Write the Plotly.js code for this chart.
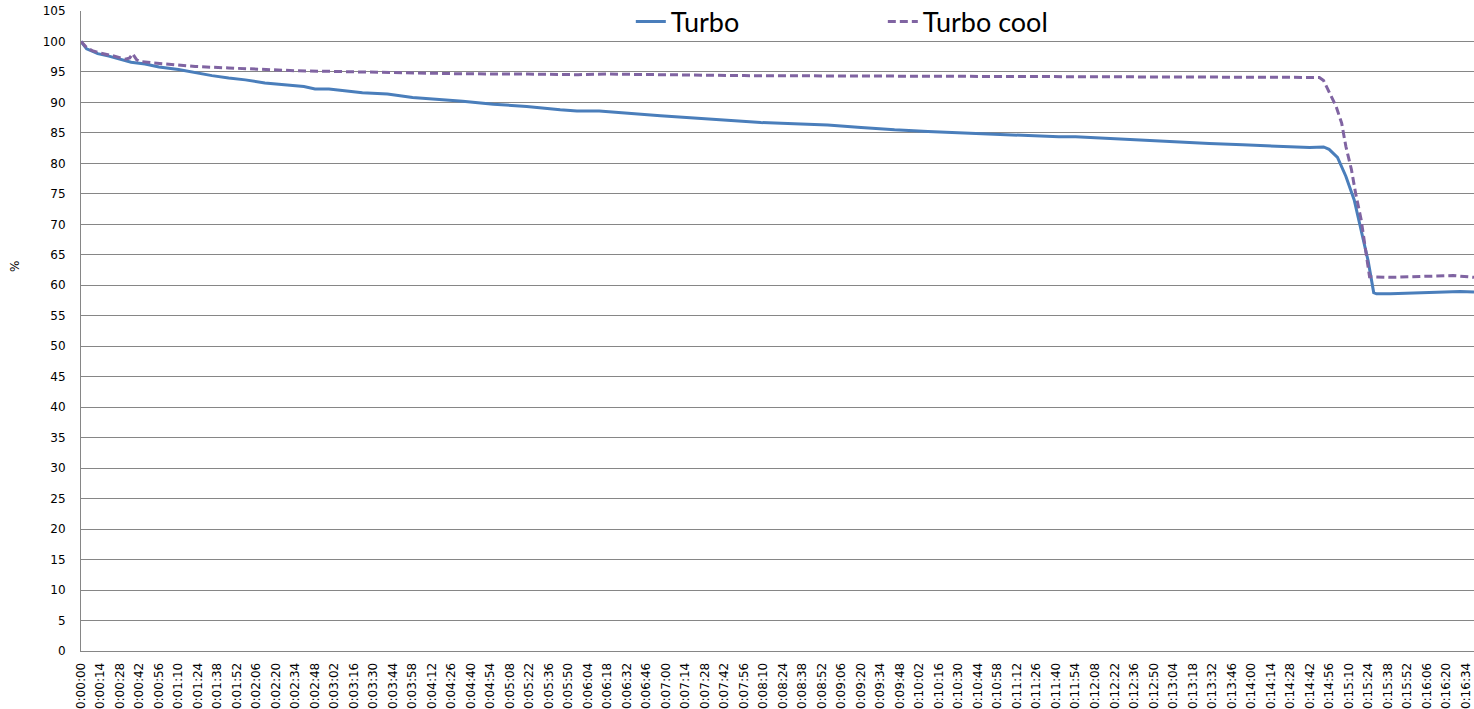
<!DOCTYPE html>
<html>
<head>
<meta charset="utf-8">
<script src="https://cdn.plot.ly/plotly-3.0.1.min.js"></script>
<style>
  html, body { margin: 0; padding: 0; background: #fff; }
  #chart { width: 1474px; height: 709px; }
</style>
</head>
<body>
<div id="chart"></div>
<script>
// Elapsed time (seconds) and level (%) for the "Turbo" run
const turboTime = [0, 4, 8, 12, 20, 28, 36, 46, 56, 70, 80, 94, 106, 118, 132, 146, 160, 168, 178,
  202, 220, 238, 250, 274, 296, 320, 344, 356, 372, 392, 416, 440, 464, 488, 512, 536, 560,
  584, 608, 632, 656, 680, 702, 714, 738, 762, 786, 810, 834, 858, 882, 892, 896, 902, 908,
  914, 918, 924, 928, 930, 940, 950, 960, 970, 980, 990, 1000];
const turboValues = [100, 98.8, 98.4, 98.0, 97.6, 97.1, 96.6, 96.3, 95.8, 95.4, 94.95, 94.4, 94.0, 93.7, 93.2, 92.9, 92.6, 92.2, 92.2,
  91.6, 91.4, 90.8, 90.6, 90.2, 89.7, 89.35, 88.8, 88.6, 88.6, 88.2, 87.8, 87.45, 87.05, 86.7, 86.5, 86.3, 85.9,
  85.5, 85.25, 85.0, 84.75, 84.6, 84.35, 84.35, 84.05, 83.8, 83.5, 83.25, 83.05, 82.8, 82.6, 82.7, 82.3, 81.0, 77.9,
  74.0, 69.8, 64.0, 58.8, 58.6, 58.6, 58.7, 58.7, 58.8, 58.9, 59.0, 58.9];

// Elapsed time (seconds) and level (%) for the "Turbo cool" run
const coolTime = [0, 4, 8, 14, 22, 28, 32, 35, 37, 40, 42, 51, 65, 82, 106, 130, 154, 178, 225, 273,
  321, 357, 378, 428, 476, 536, 607, 655, 679, 715, 763, 810, 858, 882, 889, 892, 896, 901,
  905, 908, 912, 915, 919, 922, 925, 940, 955, 970, 985, 1000];
const coolValues = [100, 99.0, 98.5, 98.1, 97.7, 97.4, 97.1, 97.3, 98.0, 97.0, 96.75, 96.5, 96.2, 95.9, 95.65, 95.4, 95.2, 95.1, 94.9, 94.7,
  94.65, 94.55, 94.65, 94.5, 94.4, 94.35, 94.3, 94.25, 94.2, 94.2, 94.2, 94.15, 94.15, 94.1, 94.1, 93.6, 91.6, 89.35,
  86.6, 82.8, 79.0, 75.1, 70.75, 65.8, 61.4, 61.3, 61.4, 61.6, 61.6, 61.3];

// Category labels shown along the time axis
const tickLabels = ["0:00:00", "0:00:14", "0:00:28", "0:00:42", "0:00:56", "0:01:10", "0:01:24", "0:01:38",
  "0:01:52", "0:02:06", "0:02:20", "0:02:34", "0:02:48", "0:03:02", "0:03:16", "0:03:30", "0:03:44",
  "0:03:58", "0:04:12", "0:04:26", "0:04:40", "0:04:54", "0:05:08", "0:05:22", "0:05:36", "0:05:50",
  "0:06:04", "0:06:18", "0:06:32", "0:06:46", "0:07:00", "0:07:14", "0:07:28", "0:07:42", "0:07:56",
  "0:08:10", "0:08:24", "0:08:38", "0:08:52", "0:09:06", "0:09:20", "0:09:34", "0:09:48", "0:10:02",
  "0:10:16", "0:10:30", "0:10:44", "0:10:58", "0:11:12", "0:11:26", "0:11:40", "0:11:54", "0:12:08",
  "0:12:22", "0:12:36", "0:12:50", "0:13:04", "0:13:18", "0:13:32", "0:13:46", "0:14:00", "0:14:14",
  "0:14:28", "0:14:42", "0:14:56", "0:15:10", "0:15:24", "0:15:38", "0:15:52", "0:16:06", "0:16:20",
  "0:16:34"];

const seriesNames = ["Turbo", "Turbo cool"];

// Convert "h:mm:ss" to seconds so ticks sit on the same scale as the data
function toSeconds(label) {
  const [h, m, s] = label.split(":").map(Number);
  return h * 3600 + m * 60 + s;
}
const tickVals = tickLabels.map(toSeconds);

const gridColor = "#868686";
const font = "DejaVu Sans, Verdana, sans-serif";

const traces = [
  {
    x: turboTime, y: turboValues, name: seriesNames[0],
    type: "scatter", mode: "lines",
    line: { color: "#4A7EBB", width: 3 }
  },
  {
    x: coolTime, y: coolValues, name: seriesNames[1],
    type: "scatter", mode: "lines",
    line: { color: "#8064A2", width: 3, dash: "8px,4px" }
  }
];

const layout = {
  width: 1474, height: 709,
  margin: { l: 81, r: 0, t: 11, b: 58, pad: 0, autoexpand: false },
  paper_bgcolor: "#ffffff",
  plot_bgcolor: "#ffffff",
  showlegend: true,
  legend: {
    orientation: "h",
    x: 0.3947, xanchor: "left",
    y: 1.021, yanchor: "top",
    bgcolor: "rgba(0,0,0,0)",
    borderwidth: 0,
    entrywidth: 207, entrywidthmode: "pixels",
    font: { family: "Lato, sans-serif", size: 27, color: "#000" }
  },
  xaxis: {
    type: "linear",
    range: [0, 1000],
    tickmode: "array",
    tickvals: tickVals,
    ticktext: tickLabels,
    tickangle: -90,
    ticks: "",
    ticklabelstandoff: 6,
    ticklabeloverflow: "allow",
    automargin: false,
    showgrid: false,
    zeroline: false,
    showline: true,
    linecolor: gridColor,
    linewidth: 1,
    tickfont: { family: font, size: 12, color: "#000" }
  },
  yaxis: {
    range: [0, 105],
    tick0: 0, dtick: 5,
    ticks: "",
    ticklabelstandoff: 12,
    automargin: false,
    showgrid: true,
    gridcolor: gridColor,
    gridwidth: 1,
    zeroline: false,
    showline: true,
    linecolor: gridColor,
    linewidth: 1,
    tickfont: { family: font, size: 12, color: "#000" }
  },
  annotations: [
    {
      text: "%", xref: "paper", yref: "paper",
      x: -0.0474, y: 0.6016, xanchor: "center", yanchor: "middle",
      textangle: -90, showarrow: false,
      font: { family: font, size: 12, color: "#000" }
    }
  ]
};

Plotly.newPlot("chart", traces, layout, { displayModeBar: false, staticPlot: true });
</script>
</body>
</html>
